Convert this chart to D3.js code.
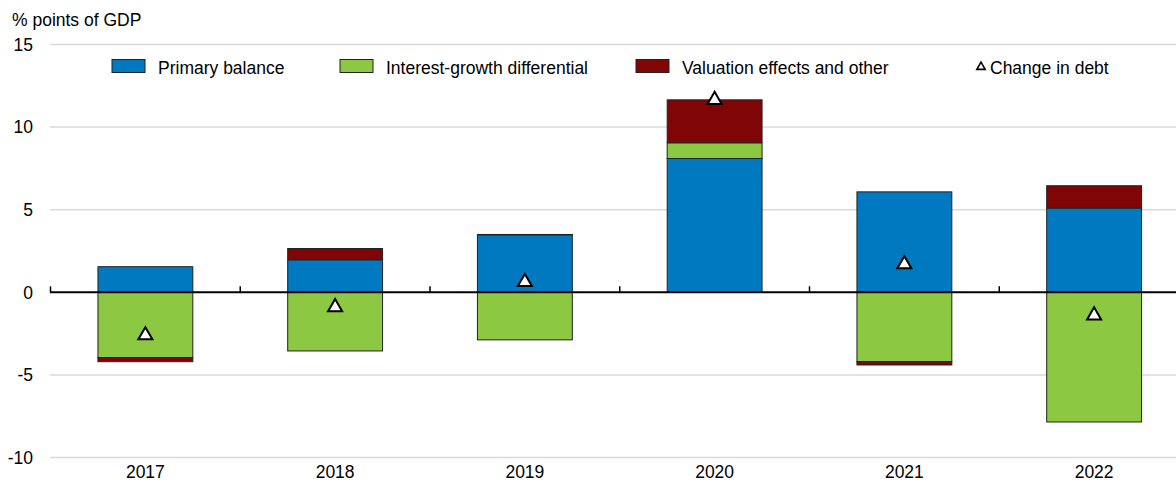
<!DOCTYPE html>
<html>
<head>
<meta charset="utf-8">
<script src="https://cdn.jsdelivr.net/npm/d3@7"></script>
<style>
  body { margin: 0; background: #fff; }
  text { font-family: "Liberation Sans", Arial, sans-serif; fill: #000; font-size: 17.5px; }
</style>
</head>
<body>
<div id="chart"></div>
<script>
var width = 1176,
    height = 482;

// data
var years = ["2017", "2018", "2019", "2020", "2021", "2022"];
var primaryBalance = [1.55, 1.97, 3.48, 8.1, 6.08, 5.1];
var interestGrowth = [-3.95, -3.55, -2.88, 0.95, -4.2, -7.85];
var valuation = [-0.25, 0.68, 0.02, 2.6, -0.2, 1.35];
var changeInDebt = [-2.6, -0.9, 0.62, 11.65, 1.7, -1.4];
var yTicks = [-10, -5, 0, 5, 10, 15];

var keys = ["primary", "interest", "valuation"];
var labels = {
  primary: "Primary balance",
  interest: "Interest-growth differential",
  valuation: "Valuation effects and other"
};
var colors = { primary: "#0079c1", interest: "#8cc841", valuation: "#800506" };

var rows = years.map(function(y, i) {
  return { year: y, primary: primaryBalance[i], interest: interestGrowth[i], valuation: valuation[i], debt: changeInDebt[i] };
});

var svg = d3.select("#chart")
    .append("svg")
    .attr("width", width)
    .attr("height", height);

var x = d3.scaleBand()
    .domain(years)
    .range([50.5, 1189])
    .paddingInner(0.5)
    .paddingOuter(0.25);

var xb = d3.scaleBand().domain(years).range([50.5, 1189]);

var y = d3.scaleLinear()
    .domain([-10, 15])
    .range([457.5, 44.5]);

// gridlines
svg.append("g")
  .selectAll("line")
  .data(yTicks.filter(function(d) { return d !== 0; }))
  .enter().append("line")
    .attr("x1", 50)
    .attr("x2", width)
    .attr("y1", function(d) { return y(d); })
    .attr("y2", function(d) { return y(d); })
    .attr("stroke", "#d9d9d9")
    .attr("stroke-width", 1.5);

// y axis labels
svg.append("g")
  .selectAll("text")
  .data(yTicks)
  .enter().append("text")
    .attr("x", 33)
    .attr("y", function(d) { return y(d); })
    .attr("dy", "0.36em")
    .attr("text-anchor", "end")
    .text(function(d) { return d; });

svg.append("text")
    .attr("x", 12)
    .attr("y", 26)
    .text("% points of GDP");

// stacked bars
var stack = d3.stack()
    .keys(keys)
    .offset(d3.stackOffsetDiverging);

var series = stack(rows);

svg.append("g")
  .selectAll("g")
  .data(series)
  .enter().append("g")
    .attr("fill", function(d) { return colors[d.key]; })
  .selectAll("rect")
  .data(function(d) { return d; })
  .enter().append("rect")
    .attr("x", function(d) { return x(d.data.year); })
    .attr("width", x.bandwidth())
    .attr("y", function(d) { return y(Math.max(d[0], d[1])); })
    .attr("height", function(d) { return Math.abs(y(d[0]) - y(d[1])); })
    .attr("stroke", "#222")
    .attr("stroke-width", 1);

// zero axis with category ticks
var xAxis = svg.append("g")
    .attr("transform", "translate(0," + y(0) + ")");

xAxis.append("line")
    .attr("x1", 50)
    .attr("x2", width)
    .attr("stroke", "#000")
    .attr("stroke-width", 2);

xAxis.selectAll(".tick")
  .data(years)
  .enter().append("line")
    .attr("x1", function(d) { return xb(d); })
    .attr("x2", function(d) { return xb(d); })
    .attr("y1", 0)
    .attr("y2", -6)
    .attr("stroke", "#000")
    .attr("stroke-width", 1.5);

svg.append("g")
  .selectAll("text")
  .data(years)
  .enter().append("text")
    .attr("x", function(d) { return xb(d) + xb.bandwidth() / 2; })
    .attr("y", 478)
    .attr("text-anchor", "middle")
    .text(function(d) { return d; });

// change in debt markers
var tri = d3.symbol().type(d3.symbolTriangle).size(85);

svg.append("g")
  .selectAll("path")
  .data(rows)
  .enter().append("path")
    .attr("d", tri)
    .attr("transform", function(d) {
      return "translate(" + (x(d.year) + x.bandwidth() / 2) + "," + y(d.debt) + ")";
    })
    .attr("fill", "#fff")
    .attr("stroke", "#000")
    .attr("stroke-width", 2);

// legend
var legend = svg.append("g");
var legendX = { primary: 112, interest: 340, valuation: 636 };

keys.forEach(function(k) {
  legend.append("rect")
      .attr("x", legendX[k])
      .attr("y", 59.5)
      .attr("width", 33)
      .attr("height", 13)
      .attr("fill", colors[k])
      .attr("stroke", "#222")
      .attr("stroke-width", 1);
  legend.append("text")
      .attr("x", legendX[k] + 46)
      .attr("y", 73.5)
      .text(labels[k]);
});

legend.append("path")
    .attr("d", d3.symbol().type(d3.symbolTriangle).size(30))
    .attr("transform", "translate(981,67)")
    .attr("fill", "#fff")
    .attr("stroke", "#000")
    .attr("stroke-width", 1.6);

legend.append("text")
    .attr("x", 990)
    .attr("y", 73.5)
    .text("Change in debt");
</script>
</body>
</html>
